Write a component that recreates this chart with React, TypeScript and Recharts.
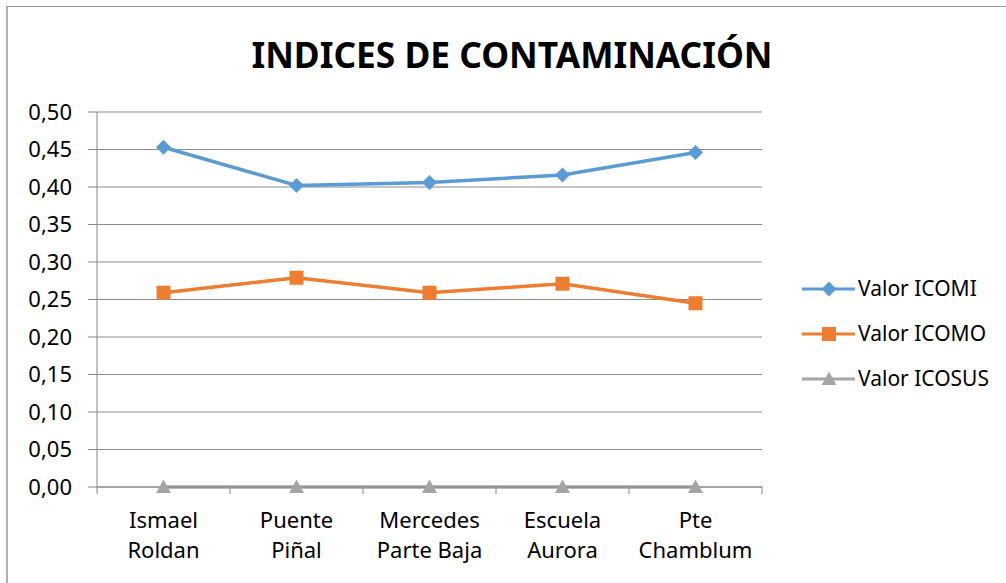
import { LineChart, Line, XAxis, YAxis, CartesianGrid } from "recharts";

const sites = [
  ["Ismael", "Roldan"],
  ["Puente", "Piñal"],
  ["Mercedes", "Parte Baja"],
  ["Escuela", "Aurora"],
  ["Pte", "Chamblum"],
];
const icomi = [0.453, 0.402, 0.406, 0.416, 0.446];
const icomo = [0.259, 0.279, 0.259, 0.271, 0.245];
const icosus = [0, 0, 0, 0, 0];
const yTicks = [0, 0.05, 0.1, 0.15, 0.2, 0.25, 0.3, 0.35, 0.4, 0.45, 0.5];

const series = [
  { key: "icomi", name: "Valor ICOMI", color: "#5b9bd5" },
  { key: "icomo", name: "Valor ICOMO", color: "#ed7d31" },
  { key: "icosus", name: "Valor ICOSUS", color: "#a5a5a5" },
];

const data = sites.map((s, i) => ({
  name: s.join(" "),
  icomi: icomi[i],
  icomo: icomo[i],
  icosus: icosus[i],
}));

const FONT = "'Noto Sans', sans-serif";
const PLOT_LEFT = 97;
const PLOT_RIGHT = 762;
const BAND = (PLOT_RIGHT - PLOT_LEFT) / sites.length;

const Diamond = ({ cx, cy, color }: any) => (
  <path d={`M${cx},${cy - 7.5} L${cx + 7.5},${cy} L${cx},${cy + 7.5} L${cx - 7.5},${cy} Z`} fill={color} />
);
const Square = ({ cx, cy, color }: any) => (
  <rect x={cx - 7} y={cy - 7} width={14} height={14} fill={color} />
);
const Triangle = ({ cx, cy, color }: any) => (
  <path d={`M${cx},${cy - 7.5} L${cx + 7.5},${cy + 6} L${cx - 7.5},${cy + 6} Z`} fill={color} />
);

const markers: any = { icomi: Diamond, icomo: Square, icosus: Triangle };

const XTick = (props: any) => {
  const { x, y, index } = props;
  const lines = sites[index] || [];
  const left = x - BAND / 2;
  return (
    <g>
      <line x1={left} y1={487} x2={left} y2={494} stroke="#868686" />
      {index === sites.length - 1 && (
        <line x1={left + BAND} y1={487} x2={left + BAND} y2={494} stroke="#868686" />
      )}
      <text x={x} y={y} textAnchor="middle" fill="#000" fontSize={22} fontFamily={FONT}>
        <tspan x={x} dy={33}>{lines[0]}</tspan>
        <tspan x={x} dy={30}>{lines[1]}</tspan>
      </text>
    </g>
  );
};

const SideLegend = () => (
  <svg width={206} height={140} style={{ position: "absolute", left: 800, top: 270 }}>
    {series.map((s, i) => {
      const M = markers[s.key];
      const cy = 19 + i * 45;
      return (
        <g key={s.key}>
          <line x1={2} y1={cy} x2={55} y2={cy} stroke={s.color} strokeWidth={3} />
          <M cx={29} cy={cy} color={s.color} />
          <text x={58} y={cy + 7} fontSize={21} fontFamily={FONT} fill="#000">
            {s.name}
          </text>
        </g>
      );
    })}
  </svg>
);

export default function App() {
  return (
    <div style={{ position: "absolute", left: 0, top: 0, width: 1006, height: 583, overflow: "hidden", background: "#fff" }}>
      <div
        style={{
          position: "absolute",
          left: 6,
          top: 6,
          width: 1010,
          height: 590,
          borderLeft: "2px solid #b0b0b0",
          borderTop: "1px solid #999",
        }}
      />
      <div
        style={{
          position: "absolute",
          left: 0,
          top: 29,
          width: 1024,
          textAlign: "center",
          fontFamily: FONT,
          fontWeight: "bold",
          fontSize: 35.3,
          color: "#000",
          lineHeight: "50px",
        }}
      >
        INDICES DE CONTAMINACIÓN
      </div>
      <div style={{ position: "absolute", left: 0, top: 0 }}>
        <LineChart width={1006} height={583} data={data} margin={{ top: 112, right: 244, bottom: 0, left: 0 }}>
          <CartesianGrid horizontal vertical={false} stroke="#8c8c8c" />
          <XAxis
            dataKey="name"
            scale="band"
            interval={0}
            height={96}
            axisLine={{ stroke: "#868686" }}
            tickLine={false}
            tick={<XTick />}
          />
          <YAxis
            width={97}
            domain={[0, 0.5]}
            ticks={yTicks}
            interval={0}
            tickSize={9}
            tickMargin={16}
            axisLine={{ stroke: "#868686" }}
            tickLine={{ stroke: "#868686" }}
            tick={{ fill: "#000", fontSize: 22, fontFamily: FONT }}
            tickFormatter={(v: number) => v.toFixed(2).replace(".", ",")}
          />
          {series
            .slice()
            .reverse()
            .map((s) => {
              const M = markers[s.key];
              return (
                <Line
                  key={s.key}
                  dataKey={s.key}
                  name={s.name}
                  stroke={s.color}
                  strokeWidth={3.5}
                  dot={(p: any) => <M key={`${s.key}-${p.index}`} cx={p.cx} cy={p.cy} color={s.color} />}
                  activeDot={false}
                  isAnimationActive={false}
                />
              );
            })}
        </LineChart>
      </div>
      <SideLegend />
    </div>
  );
}
